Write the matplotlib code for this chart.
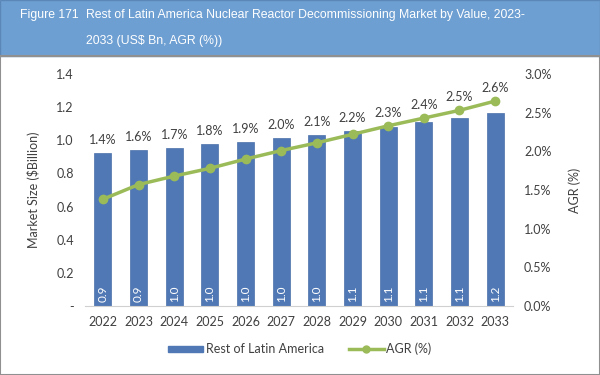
import matplotlib
matplotlib.use("Agg")
import matplotlib.pyplot as plt
from matplotlib.patches import Rectangle
from matplotlib.lines import Line2D

years = ["2022", "2023", "2024", "2025", "2026", "2027", "2028",
         "2029", "2030", "2031", "2032", "2033"]
market = [0.925, 0.941, 0.955, 0.976, 0.992, 1.012, 1.032,
          1.056, 1.078, 1.108, 1.136, 1.163]
agr = [1.38, 1.57, 1.68, 1.78, 1.90, 2.01, 2.11,
       2.22, 2.33, 2.43, 2.53, 2.65]

bar_color = "#5078b4"
line_color = "#9bbb59"
text_color = "#404040"

plt.rcParams['font.family'] = ['Lato', 'DejaVu Sans']

fig = plt.figure(figsize=(6, 3.75), dpi=100)

# title banner
fig.patches.append(Rectangle((0, 1 - 56 / 375), 1, 56 / 375, transform=fig.transFigure,
                             facecolor="#6e9fd2", edgecolor="#5b87b8", lw=1, zorder=0))
title_font = dict(color="white", fontsize=8.8, va="center", family=['Liberation Sans', 'DejaVu Sans'])
fig.text(20 / 600, 1 - 15 / 375, "Figure 171", **title_font)
fig.text(86 / 600, 1 - 15 / 375,
         "Rest of Latin America Nuclear Reactor Decommissioning Market by Value, 2023-",
         **title_font)
fig.text(86 / 600, 1 - 41 / 375, "2033 (US$ Bn, AGR (%))", **title_font)

# frame around the figure
fig.patches.append(Rectangle((0, 0), 1, 1 - 56 / 375, transform=fig.transFigure,
                             facecolor="none", edgecolor="#909090", lw=1.5, zorder=0))

ax = fig.add_axes([85 / 600, 69 / 375, 428 / 600, 232 / 375])
x = list(range(len(years)))
bars = ax.bar(x, market, width=0.48, color=bar_color, edgecolor="#4a70aa", lw=0.5,
              label="Rest of Latin America", zorder=2)
ax.set_xlim(-0.5, len(years) - 0.5)
ax.set_ylim(0, 1.4)
ax.set_yticks([0, 0.2, 0.4, 0.6, 0.8, 1.0, 1.2, 1.4])
ax.set_yticklabels(["-", "0.2", "0.4", "0.6", "0.8", "1.0", "1.2", "1.4"])
ax.set_xticks(x)
ax.set_xticklabels(years)
ax.tick_params(axis="both", length=0, colors=text_color, labelsize=9)
ax.tick_params(axis="y", pad=8)
ax.tick_params(axis="x", pad=7)
for s in ["top", "right", "left"]:
    ax.spines[s].set_visible(False)
ax.spines["bottom"].set_color("#d0d0d0")
ax.set_ylabel("Market Size ($Billion)", color=text_color, fontsize=9, labelpad=12)

for xi, v, g in zip(x, market, agr):
    ax.text(xi, 0.025, f"{v:.1f}", rotation=90, color="white", fontsize=8.5,
            ha="center", va="bottom", zorder=3)
    # keep the AGR label clear of both the bar and the line
    top = max(v, g / 3.0 * 1.4)
    ax.annotate(f"{g:.1f}%", (xi, top), xytext=(0, 5), textcoords="offset points",
                ha="center", va="bottom", fontsize=9, color=text_color)

ax2 = ax.twinx()
ax2.plot(x, agr, color=line_color, lw=2.5, marker="o", ms=6, zorder=4)
ax2.set_ylim(0, 3.0)
ax2.set_yticks([0, 0.5, 1.0, 1.5, 2.0, 2.5, 3.0])
ax2.set_yticklabels(["0.0%", "0.5%", "1.0%", "1.5%", "2.0%", "2.5%", "3.0%"])
ax2.tick_params(axis="y", length=0, colors=text_color, labelsize=9, pad=8)
for s in ["top", "right", "left", "bottom"]:
    ax2.spines[s].set_visible(False)
ax2.set_ylabel("AGR (%)", color=text_color, fontsize=9, labelpad=12)

handles = [Rectangle((0, 0), 1, 1, color=bar_color),
           Line2D([0], [0], color=line_color, lw=2.5, marker="o", ms=5)]
fig.legend(handles, ["Rest of Latin America", "AGR (%)"], loc="center",
           bbox_to_anchor=(0.5, 1 - 349 / 375), ncol=2, frameon=False, fontsize=9,
           labelcolor=text_color, handlelength=2.8, handleheight=0.4,
           columnspacing=2.0, handletextpad=0.2)

fig.savefig("out.png", dpi=100)
